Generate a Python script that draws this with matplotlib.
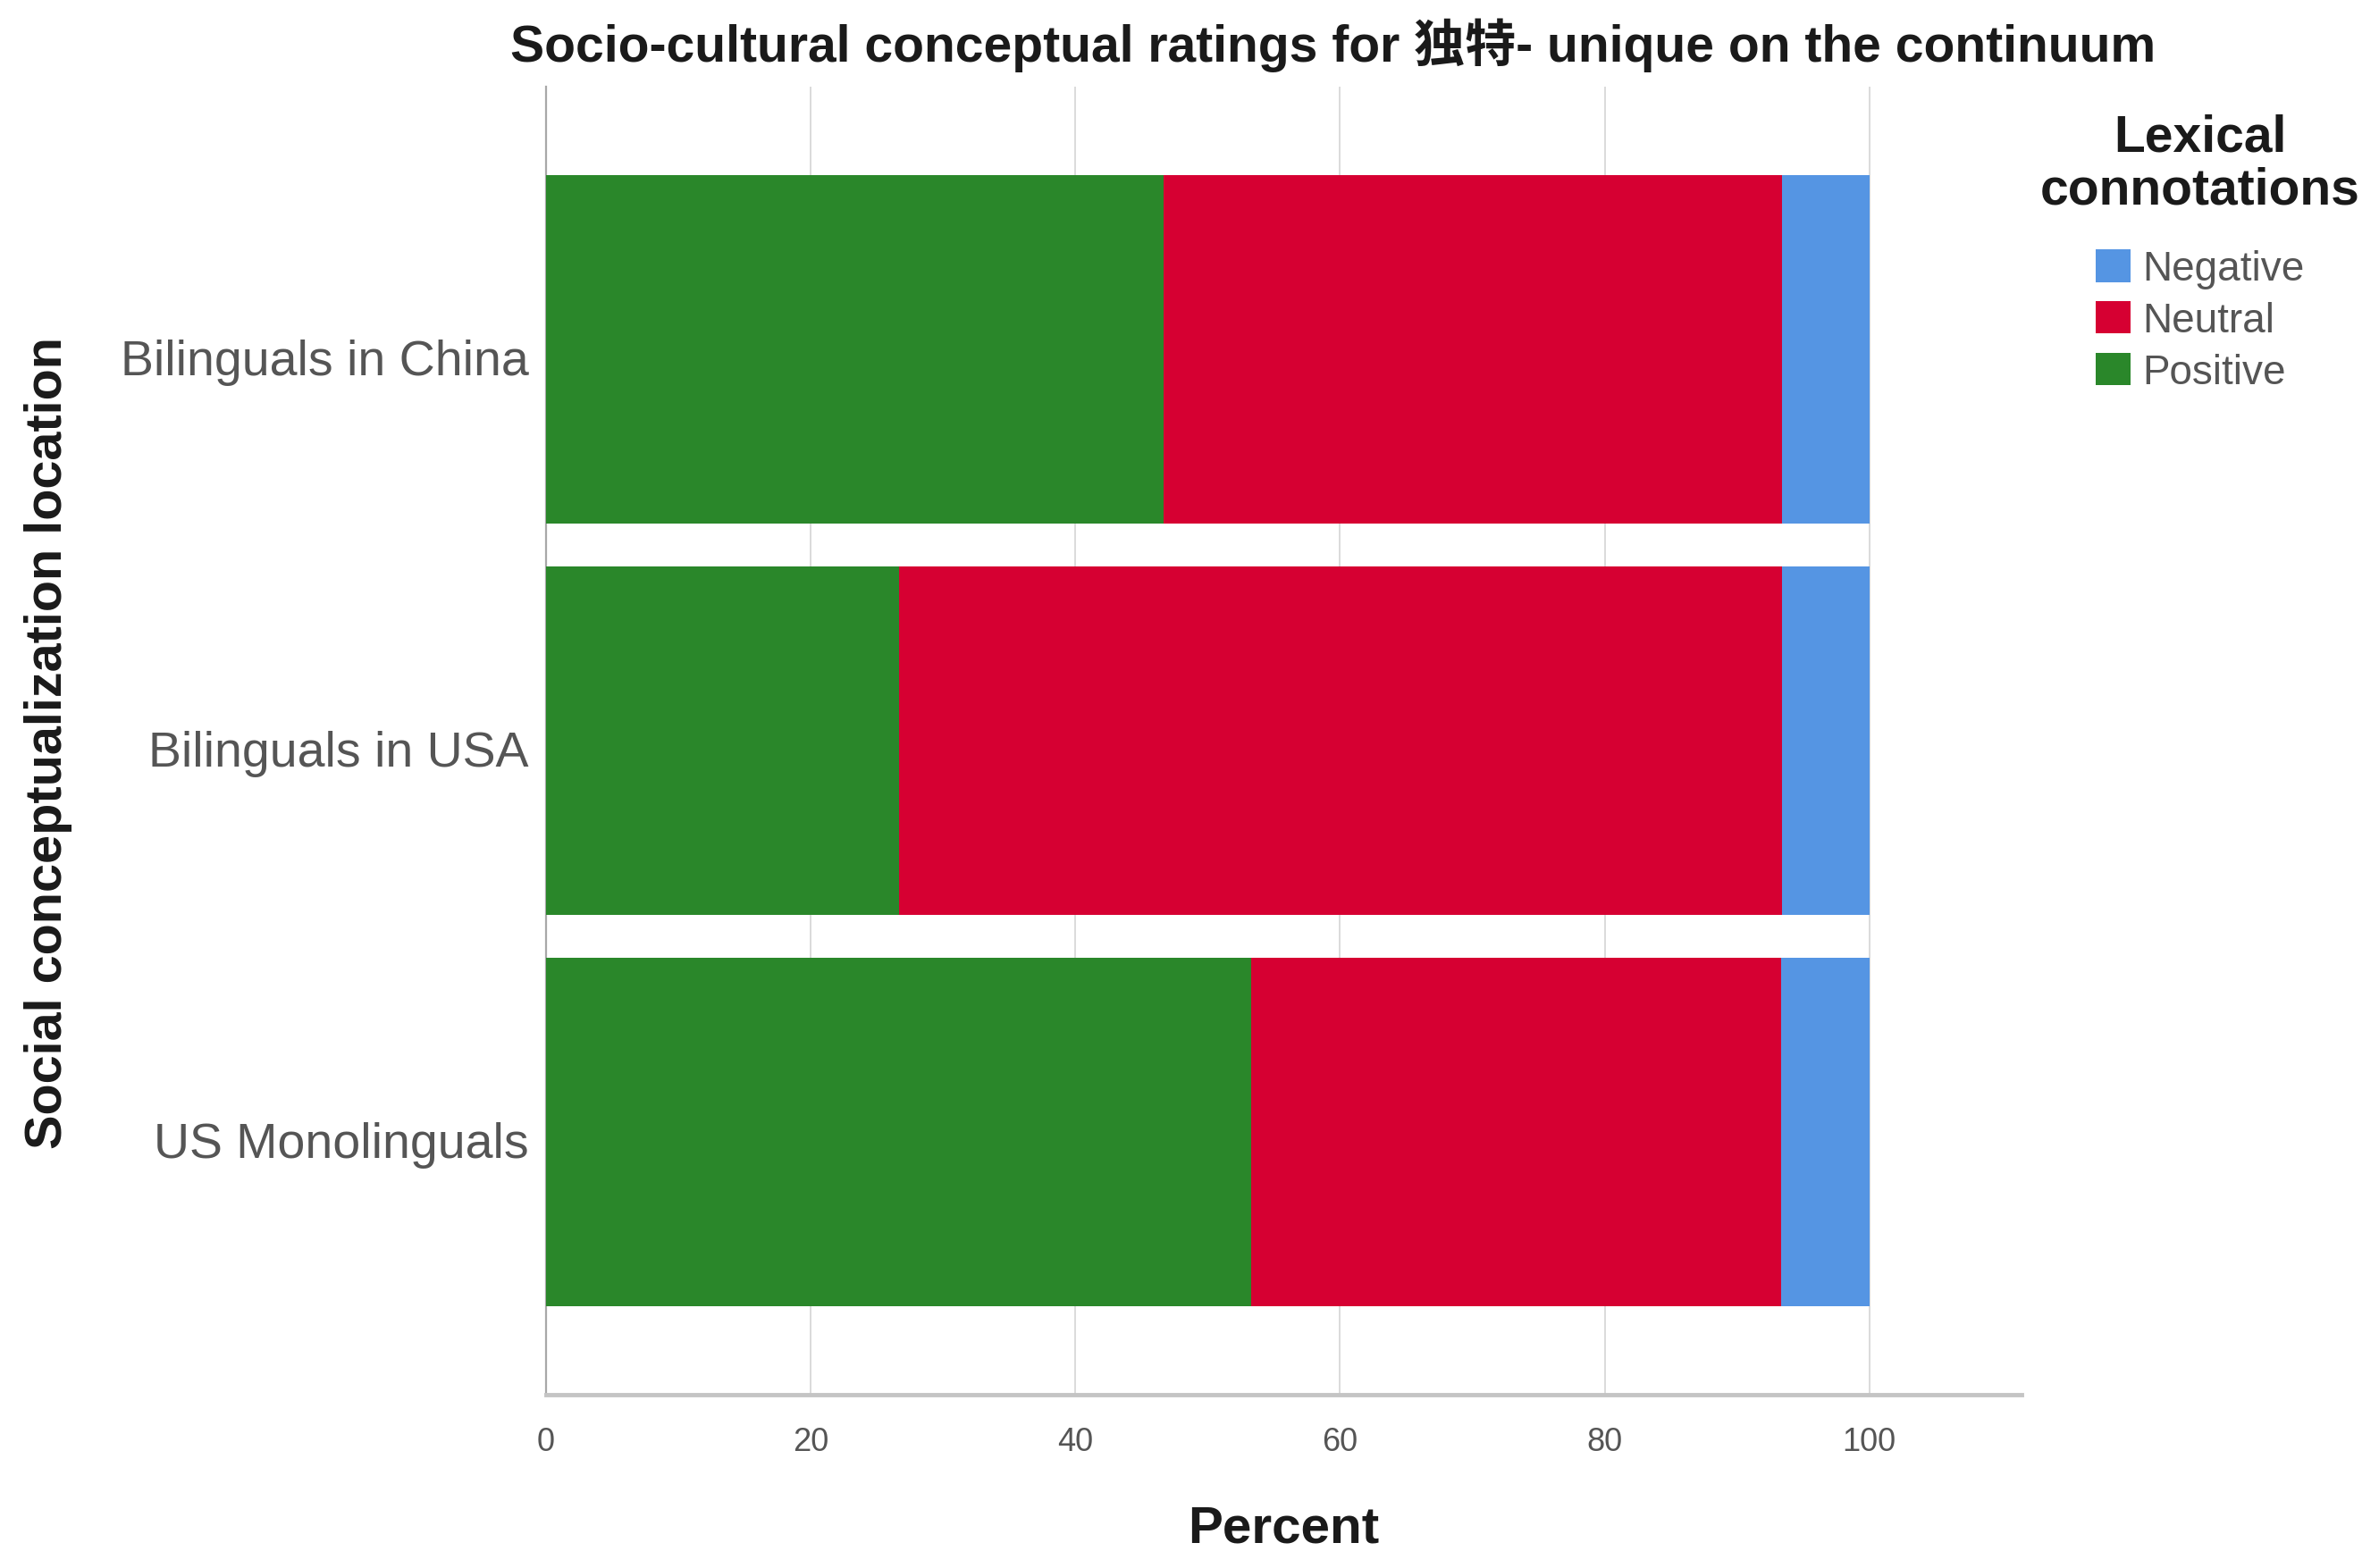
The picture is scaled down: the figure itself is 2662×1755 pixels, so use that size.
import matplotlib
matplotlib.use("Agg")
import matplotlib.pyplot as plt
from matplotlib.patches import Patch
from matplotlib.transforms import ScaledTranslation
import numpy as np

# ---- data ----
groups = ["Bilinguals in China", "Bilinguals in USA", "US Monolinguals"]
positive = [46.7, 26.7, 53.3]
neutral = [46.7, 66.7, 40.0]
negative = [6.6, 6.6, 6.7]
x_ticks = [0, 20, 40, 60, 80, 100]
legend_labels = ["Negative", "Neutral", "Positive"]

title = "Socio-cultural conceptual ratings for 独特- unique on the continuum"
xlabel = "Percent"
ylabel = "Social conceptualization location"
legend_title = "Lexical\nconnotations"

# ---- style ----
c_pos = "#2A872A"
c_neu = "#D60032"
c_neg = "#5595E3"
fam = ["Liberation Sans", "Noto Sans CJK SC", "DejaVu Sans"]
plt.rcParams["font.family"] = fam

W, H = 2662, 1756
fig = plt.figure(figsize=(W / 100, H / 100), dpi=100)
ax = fig.add_axes([611 / W, 1 - 1562 / H, (2262 - 611) / W, (1562 - 98) / H])

y = np.arange(len(groups))
bh = 0.89
pos = np.array(positive)
neu = np.array(neutral)
neg = np.array(negative)
ax.barh(y, pos, height=bh, color=c_pos, linewidth=0, zorder=3)
ax.barh(y, neu, left=pos, height=bh, color=c_neu, linewidth=0, zorder=3)
ax.barh(y, neg, left=pos + neu, height=bh, color=c_neg, linewidth=0, zorder=3)

ax.set_xlim(0, 111.5)
ax.set_ylim(len(groups) - 1 + 0.67, -0.67)
ax.set_yticks(y)
ax.set_yticklabels(groups, fontsize=40, color="#555555")
ax.set_xticks(x_ticks)
ax.set_xticklabels([str(t) for t in x_ticks], fontsize=26, color="#555555")
ax.tick_params(axis="both", length=0)
ax.tick_params(axis="y", pad=14)
ax.tick_params(axis="x", pad=25)

shift = ScaledTranslation(0, -8 / 100, fig.dpi_scale_trans)
for lab in ax.get_yticklabels():
    lab.set_transform(lab.get_transform() + shift)

for xv in x_ticks[1:]:
    ax.axvline(xv, color="#d4d4d4", linewidth=1.2, zorder=1)

for s in ["top", "right"]:
    ax.spines[s].set_visible(False)
ax.spines["left"].set_color("#a8a8a8")
ax.spines["left"].set_linewidth(1.6)
ax.spines["bottom"].set_color("#c4c4c4")
ax.spines["bottom"].set_linewidth(3.5)

fig.text(1492 / W, 1 - 51 / H, title, ha="center", va="center",
         fontsize=41, fontweight="bold", color="#1a1a1a", family=fam)
fig.text(1436 / W, 1 - 1712 / H, xlabel, ha="center", va="center",
         fontsize=42, fontweight="bold", color="#1a1a1a")
fig.text(54 / W, 1 - 832 / H, ylabel, ha="center", va="center", rotation=90,
         fontsize=41.5, fontweight="bold", color="#1a1a1a")

fig.text(2462 / W, 1 - 184 / H, legend_title, ha="center", va="center",
         fontsize=41, fontweight="bold", color="#1a1a1a", linespacing=1.13)

handles = [Patch(facecolor=c, edgecolor="none") for c in [c_neg, c_neu, c_pos]]
leg = fig.legend(handles, legend_labels, loc="center", bbox_to_anchor=(2462 / W, 1 - 360 / H),
                 frameon=False, fontsize=33, handlelength=0.85, handleheight=0.85,
                 handletextpad=0.3, labelspacing=0.3, borderpad=0)
for t in leg.get_texts():
    t.set_color("#555555")

fig.savefig("out.png", dpi=100)
